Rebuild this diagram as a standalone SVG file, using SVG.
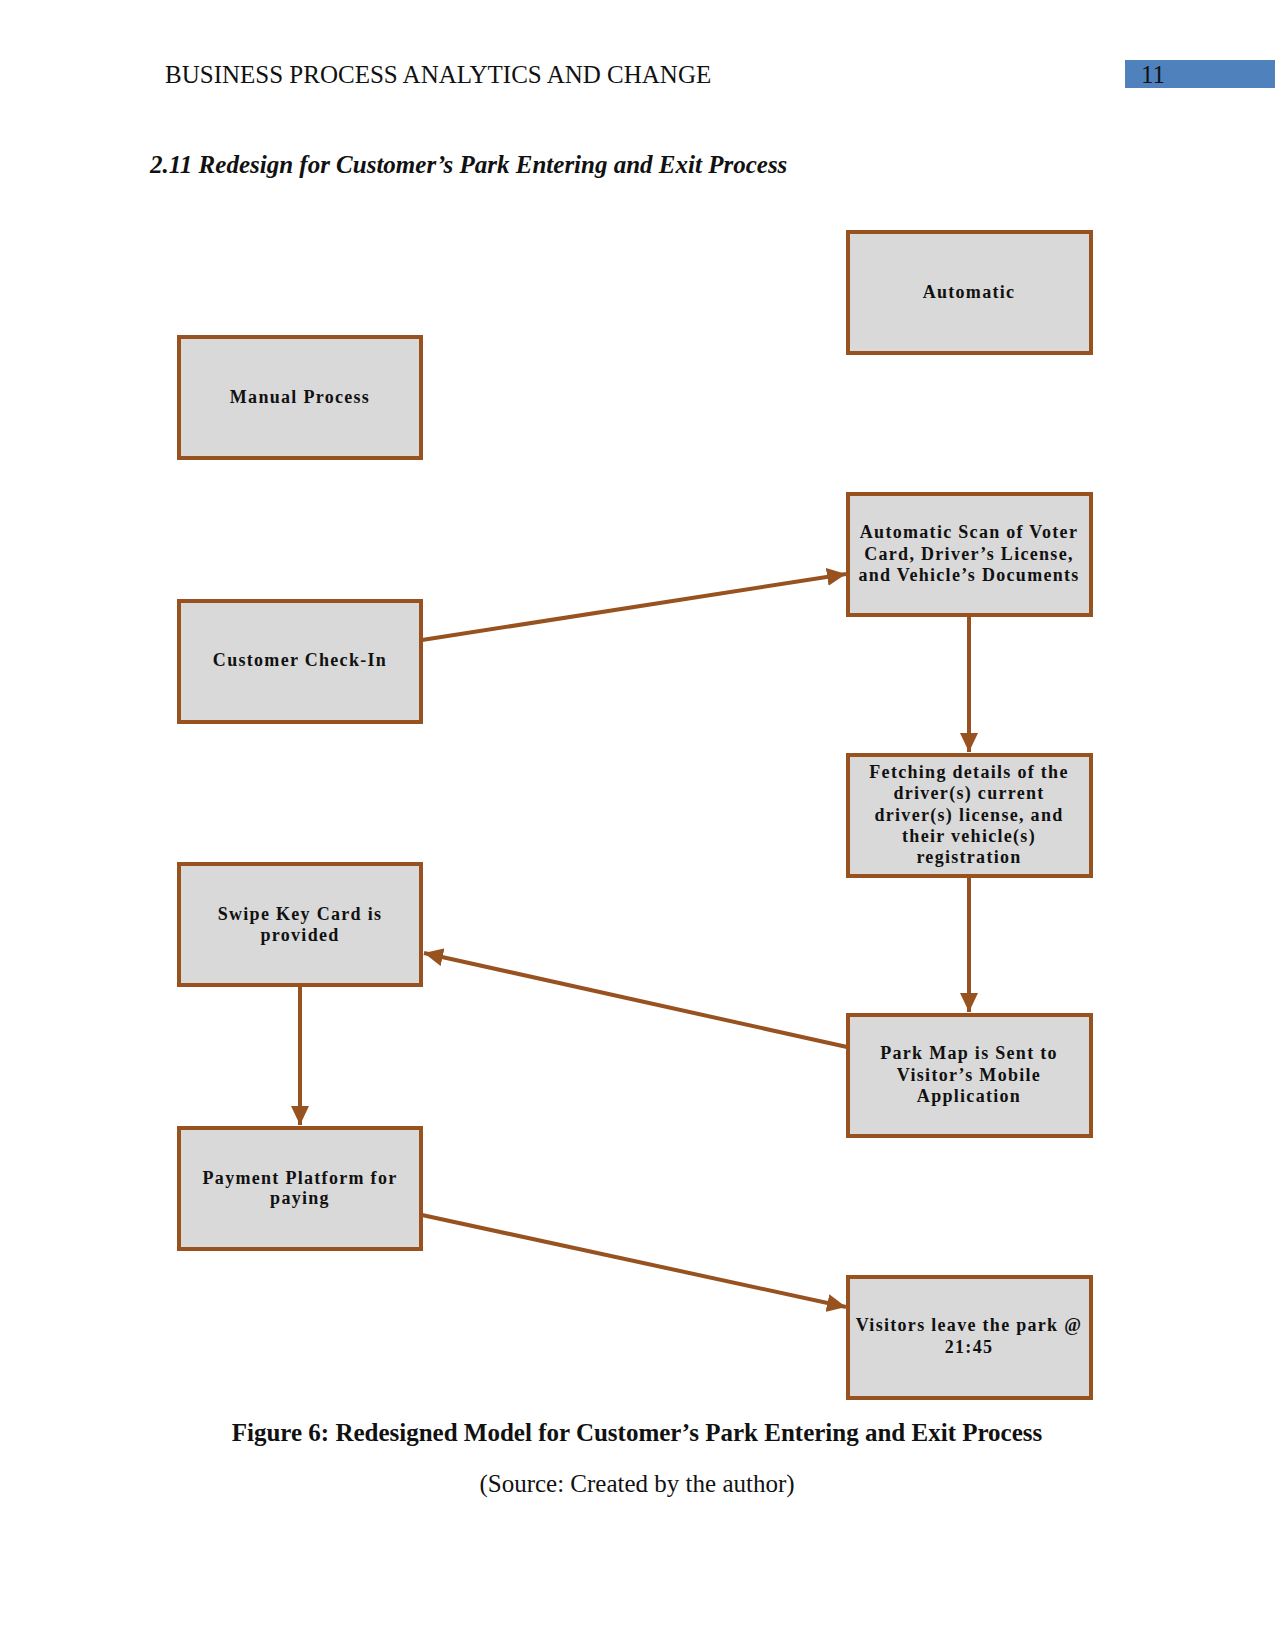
<svg xmlns="http://www.w3.org/2000/svg" width="1275" height="1650" viewBox="0 0 1275 1650">
<style>
.box{fill:#D9D9D9;stroke:#985220;stroke-width:4}
.lbl{font-family:"Liberation Serif","Times New Roman",serif;font-weight:bold;font-size:18px;letter-spacing:1.3px;fill:#111;text-anchor:middle}
.conn{stroke:#985220;stroke-width:4;fill:none}
.hdr{font-family:"Liberation Serif","Times New Roman",serif;font-size:25px;fill:#111}
.cap{font-family:"Liberation Serif","Times New Roman",serif;font-size:25px;fill:#111;text-anchor:middle}
</style>
<defs>
<marker id="ah" markerUnits="userSpaceOnUse" markerWidth="20" markerHeight="18" refX="19" refY="9" orient="auto">
<path d="M0,0 L19,9 L0,18 z" fill="#985220"/>
</marker>
</defs>
<rect width="1275" height="1650" fill="#fff"/>
<text class="hdr" x="165" y="83">BUSINESS PROCESS ANALYTICS AND CHANGE</text>
<rect x="1125" y="60" width="150" height="28" fill="#4F81BD"/>
<text class="hdr" x="1141" y="83">11</text>
<text x="150" y="173" style="font-family:'Liberation Serif','Times New Roman',serif;font-size:25px;font-weight:bold;font-style:italic;fill:#111">2.11 Redesign for Customer’s Park Entering and Exit Process</text>

<g id="connectors">
<line class="conn" x1="422" y1="640" x2="846" y2="574" marker-end="url(#ah)"/>
<line class="conn" x1="969" y1="614" x2="969" y2="752" marker-end="url(#ah)"/>
<line class="conn" x1="969" y1="876" x2="969" y2="1012" marker-end="url(#ah)"/>
<line class="conn" x1="847" y1="1047" x2="424" y2="953" marker-end="url(#ah)"/>
<line class="conn" x1="300" y1="985" x2="300" y2="1125" marker-end="url(#ah)"/>
<line class="conn" x1="422" y1="1215" x2="846" y2="1307" marker-end="url(#ah)"/>
</g>

<g id="automatic"><rect class="box" x="848" y="232" width="243" height="121"/>
<text class="lbl" x="969" y="298">Automatic</text></g>
<g id="manual"><rect class="box" x="179" y="337" width="242" height="121"/>
<text class="lbl" x="300" y="403">Manual Process</text></g>
<g id="autoscan"><rect class="box" x="848" y="494" width="243" height="121"/>
<text class="lbl" x="969" y="538">Automatic Scan of Voter</text>
<text class="lbl" x="969" y="559.5">Card, Driver’s License,</text>
<text class="lbl" x="969" y="581">and Vehicle’s Documents</text></g>
<g id="checkin"><rect class="box" x="179" y="601" width="242" height="121"/>
<text class="lbl" x="300" y="666">Customer Check-In</text></g>
<g id="fetching"><rect class="box" x="848" y="755" width="243" height="121"/>
<text class="lbl" x="969" y="777.5">Fetching details of the</text>
<text class="lbl" x="969" y="799">driver(s) current</text>
<text class="lbl" x="969" y="820.5">driver(s) license, and</text>
<text class="lbl" x="969" y="842">their vehicle(s)</text>
<text class="lbl" x="969" y="863">registration</text></g>
<g id="swipe"><rect class="box" x="179" y="864" width="242" height="121"/>
<text class="lbl" x="300" y="919.5">Swipe Key Card is</text>
<text class="lbl" x="300" y="941">provided</text></g>
<g id="parkmap"><rect class="box" x="848" y="1015" width="243" height="121"/>
<text class="lbl" x="969" y="1059">Park Map is Sent to</text>
<text class="lbl" x="969" y="1080.5">Visitor’s Mobile</text>
<text class="lbl" x="969" y="1102">Application</text></g>
<g id="payment"><rect class="box" x="179" y="1128" width="242" height="121"/>
<text class="lbl" x="300" y="1183.5">Payment Platform for</text>
<text class="lbl" x="300" y="1204">paying</text></g>
<g id="visitors"><rect class="box" x="848" y="1277" width="243" height="121"/>
<text class="lbl" x="969" y="1331">Visitors leave the park @</text>
<text class="lbl" x="969" y="1352.5">21:45</text></g>

<text class="cap" x="637" y="1441" font-weight="bold">Figure 6: Redesigned Model for Customer’s Park Entering and Exit Process</text>
<text class="cap" x="637" y="1492">(Source: Created by the author)</text>
</svg>
